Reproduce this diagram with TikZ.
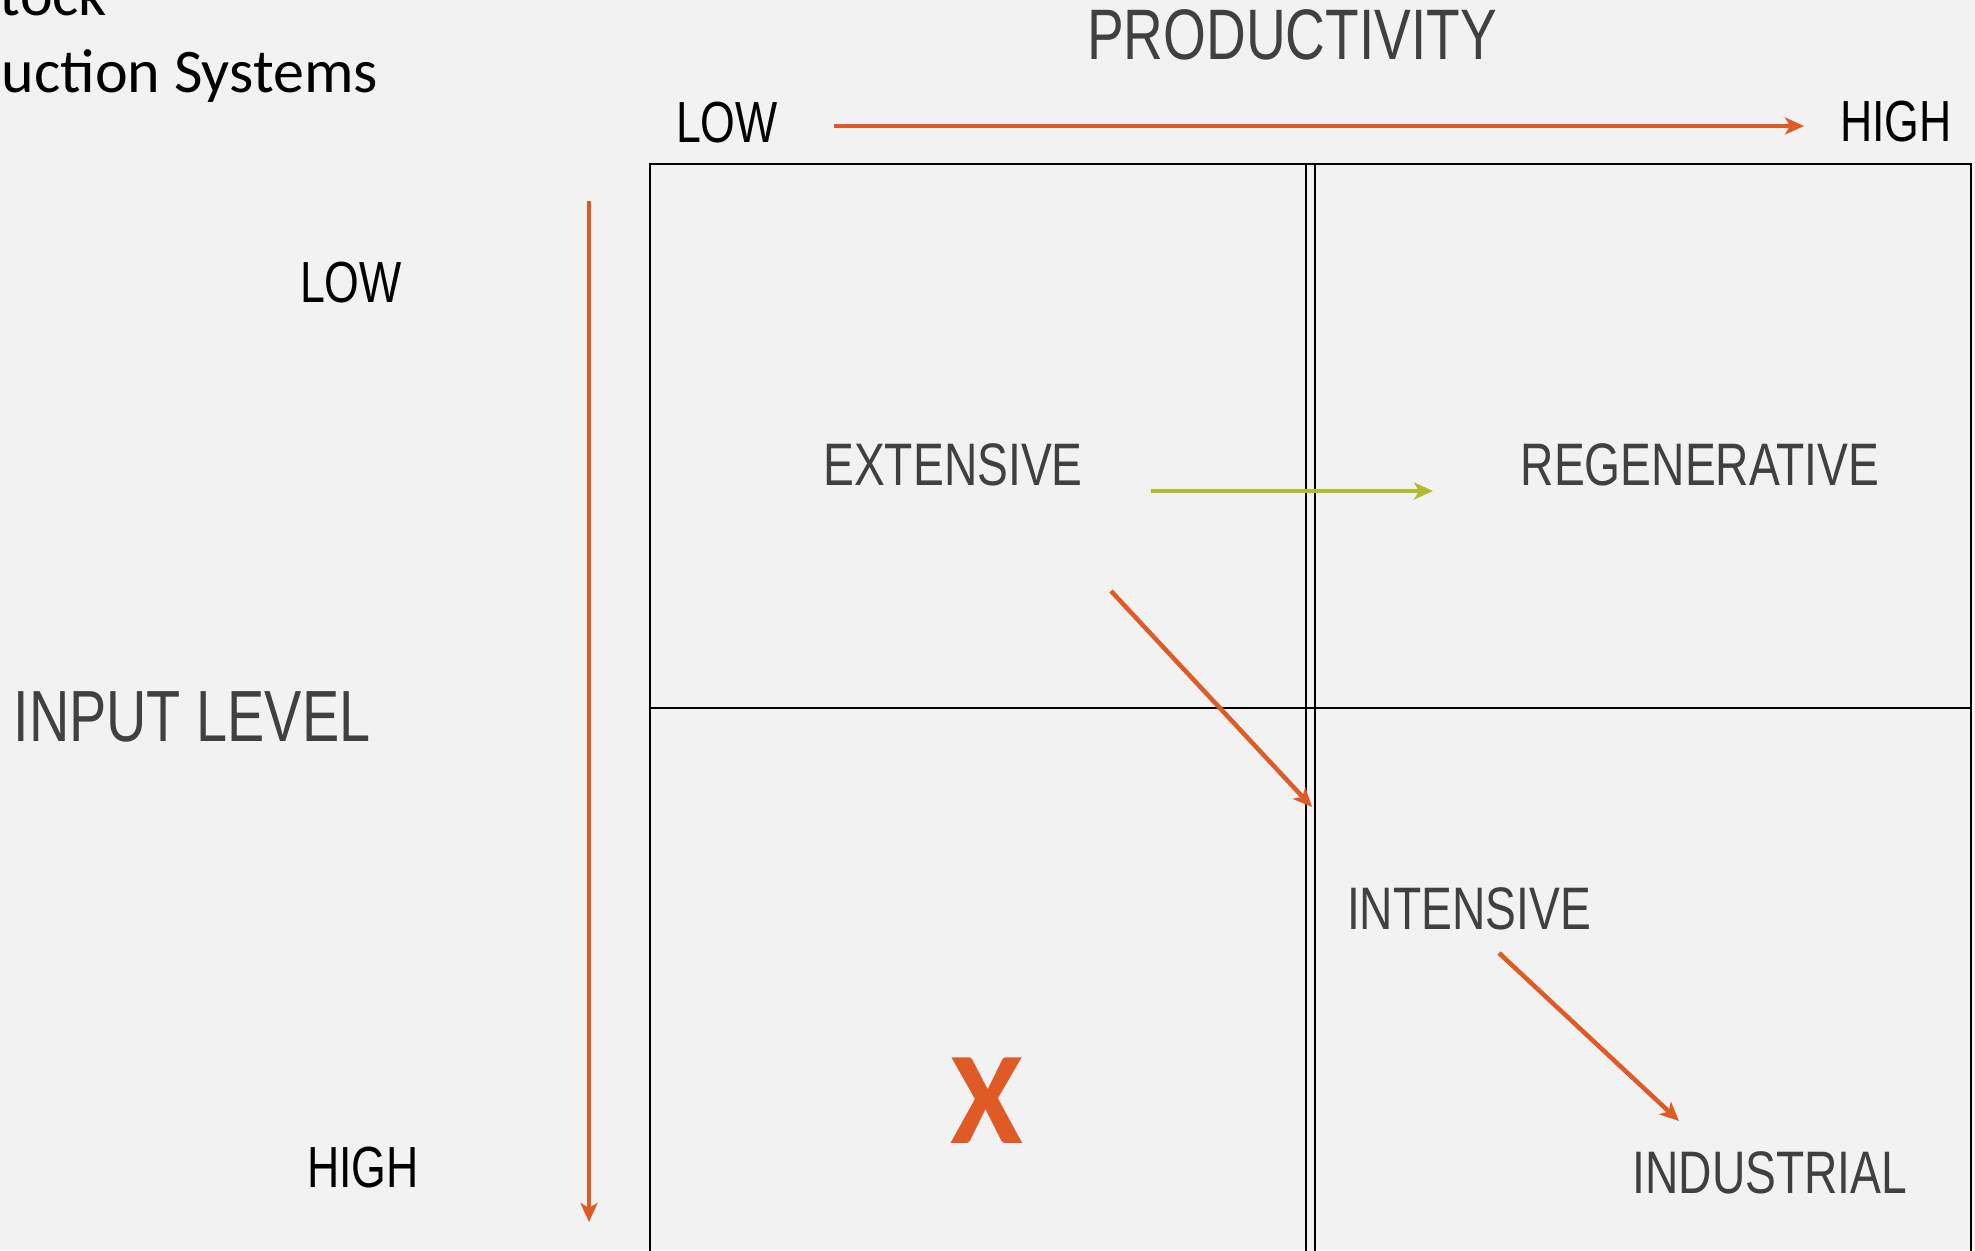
\documentclass[tikz,border=0pt]{standalone}
\usepackage{fontspec}
\setmainfont{Liberation Sans}[FakeStretch=0.77]
\newfontfamily\calib{Carlito}
\usetikzlibrary{arrows.meta}
\definecolor{bgc}{RGB}{242,242,242}
\definecolor{orng}{RGB}{224,90,38}
\definecolor{grn}{RGB}{178,186,50}
\definecolor{dgray}{RGB}{64,64,64}
\begin{document}
\begin{tikzpicture}[x=1pt,y=-1pt,
  lbl/.style={inner sep=0pt,text=dgray,font=\fontsize{60}{70}\selectfont},
  axl/.style={inner sep=0pt,text=black,font=\fontsize{58}{68}\selectfont},
  grid/.style={line width=2pt,black},
  oarr/.style={line width=4.5pt,orng,-{Stealth[length=19pt,width=17pt,inset=5pt]}},
  garr/.style={line width=4.5pt,grn,-{Stealth[length=19pt,width=17pt,inset=5pt]}}]
\useasboundingbox (0,0) rectangle (1975,1250);
\fill[bgc] (0,0) rectangle (1975,1250);
\clip (0,0) rectangle (1975,1250);
% title (cut off at the picture's edge, as in the reference)
\node[inner sep=0pt,anchor=base east,font=\calib\fontsize{62}{74}\selectfont] (t2) at (378,92) {Production Systems};
\node[inner sep=0pt,anchor=base west,font=\calib\fontsize{62}{74}\selectfont] (t1) at ([xshift=-6pt]t2.base west |- 0,15) {Livestock};
% grid
\draw[grid] (650,1262) -- (650,164) -- (1971,164) -- (1971,1262);
\draw[grid] (650,708) -- (1971,708);
\draw[grid] (1306,164) -- (1306,1262);
\draw[grid] (1315,164) -- (1315,1262);
% axis labels
\node[lbl,font=\fontsize{71.5}{80}\selectfont] (prod) at (1292,35) {PRODUCTIVITY};
\node[axl] (plow) at (727,123) {LOW};
\node[axl] (phigh) at (1896,122) {HIGH};
\node[lbl,font=\fontsize{72.5}{84}\selectfont] (inp) at (192,717) {INPUT LEVEL};
\node[axl] (ilow) at (351,283) {LOW};
\node[axl] (ihigh) at (363,1168) {HIGH};
% quadrant labels
\node[lbl] (ext) at (953,465) {EXTENSIVE};
\node[lbl] (reg) at (1700,465) {REGENERATIVE};
\node[lbl] (int) at (1469,909) {INTENSIVE};
\node[lbl] (ind) at (1770,1173) {INDUSTRIAL};
\node[inner sep=0pt,text=orng,font=\calib\bfseries\fontsize{132}{140}\selectfont] (x) at (987,1101) {X};
% arrows
\coordinate (pa) at (834,126);
\coordinate (pb) at (1804,126);
\coordinate (ia) at (589,201);
\coordinate (ib) at (589,1222);
\coordinate (ga) at (1151,491);
\coordinate (gb) at (1433,491);
\coordinate (d1a) at (1111,591);
\coordinate (d1b) at (1312,807);
\coordinate (d2a) at (1499,953);
\coordinate (d2b) at (1679,1121);
\draw[oarr] (pa) -- (pb);
\draw[oarr] (ia) -- (ib);
\draw[garr] (ga) -- (gb);
\draw[oarr] (d1a) -- (d1b);
\draw[oarr] (d2a) -- (d2b);
\end{tikzpicture}
\end{document}
